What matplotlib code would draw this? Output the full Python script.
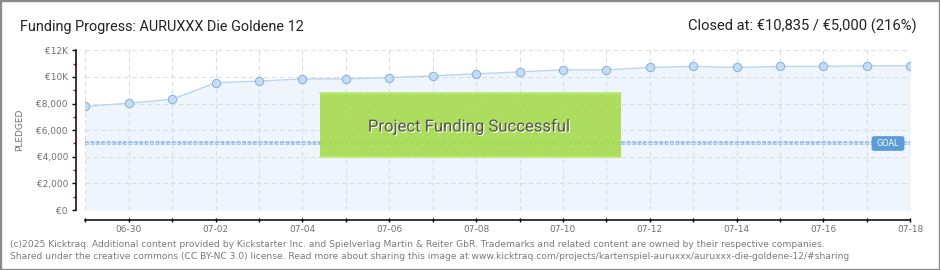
import matplotlib
matplotlib.use("Agg")
import matplotlib.pyplot as plt
import matplotlib.dates as mdates
import matplotlib.patheffects as pe
from matplotlib.patches import Rectangle, FancyBboxPatch
from matplotlib.ticker import FixedLocator, FuncFormatter
from datetime import datetime

# ---------------- data ----------------
dates = ["2025-06-29", "2025-06-30", "2025-07-01", "2025-07-02", "2025-07-03",
         "2025-07-04", "2025-07-05", "2025-07-06", "2025-07-07", "2025-07-08",
         "2025-07-09", "2025-07-10", "2025-07-11", "2025-07-12", "2025-07-13",
         "2025-07-14", "2025-07-15", "2025-07-16", "2025-07-17", "2025-07-18"]
pledged = [7790, 8020, 8320, 9560, 9690, 9850, 9850, 9950, 10080, 10230,
           10380, 10530, 10530, 10710, 10790, 10710, 10790, 10790, 10830, 10835]
goal = 5000
title = "Funding Progress: AURUXXX Die Goldene 12"
closed_text = "Closed at: €10,835 / €5,000 (216%)"
banner = "Project Funding Successful"
y_ticks = [0, 2000, 4000, 6000, 8000, 10000, 12000]
y_tick_labels = ["€0", "€2,000", "€4,000", "€6,000", "€8,000", "€10K", "€12K"]
y_minor = [1000, 3000, 5000, 7000, 9000, 11000]
footer1 = ("(c)2025 Kicktraq. Additional content provided by Kickstarter Inc. and "
           "Spielverlag Martin & Reiter GbR. Trademarks and related content are owned "
           "by their respective companies.")
footer2 = ("Shared under the creative commons (CC BY-NC 3.0) license. Read more about "
           "sharing this image at www.kicktraq.com/projects/kartenspiel-auruxxx/"
           "auruxxx-die-goldene-12/#sharing")

x = [datetime.strptime(d, "%Y-%m-%d") for d in dates]

# ---------------- layout ----------------
W, H = 940, 270
PX = 72 / 100  # points per pixel
plt.rcParams['hatch.linewidth'] = 0.6
fig = plt.figure(figsize=(W / 100, H / 100), dpi=100)
fig.patch.set_facecolor("white")

def fx(px):
    return px / W

def fy(py):
    return 1 - py / H

ax = fig.add_axes([fx(85.3), fy(210), fx(910.3) - fx(85.3), fy(50.3) - fy(210)])
ax.set_facecolor("white")

# fill + line
ax.fill_between(x, pledged, 0, color="#eef5fd", zorder=0.2, linewidth=0)
ax.plot(x, pledged, color="#b8d5f3", lw=1.0, zorder=4,
        marker="o", markersize=6.0, markerfacecolor="#c4dcf6",
        markeredgecolor="#8fb3dc", markeredgewidth=0.8)

# goal line
ax.axhline(goal, color="#94bbe9", lw=2.6, ls=(0, (1.1, 0.4)), zorder=3)
ax.axhline(goal, color="#d3e4f8", lw=0.8, ls=(0, (2.6, 1.3)), zorder=3)

ax.set_xlim(x[0], x[-1])
ax.set_ylim(0, 12000)

# grid (above the fill, below the line)
ax.set_axisbelow(True)
ax.grid(True, color="#dcdcdc", linestyle=(0, (4, 3)), lw=0.8)

# x ticks: every day, labels every other day
ax.xaxis.set_major_locator(FixedLocator(mdates.date2num(x)))
def xfmt(v, pos):
    d = mdates.num2date(v)
    idx = (d.replace(tzinfo=None) - x[0]).days
    return d.strftime("%m-%d") if idx % 2 == 1 else ""
ax.xaxis.set_major_formatter(FuncFormatter(xfmt))
ax.tick_params(axis="x", which="major", direction="inout", length=5 * PX, width=1,
               color="black", labelsize=6.5, labelcolor="#707070", pad=1.5)

# y ticks
ax.yaxis.set_major_locator(FixedLocator(y_ticks))
ax.set_yticklabels(y_tick_labels)
ax.yaxis.set_minor_locator(FixedLocator(y_minor))
ax.tick_params(axis="y", which="major", direction="out", length=4 * PX, width=1,
               color="black", labelsize=6.5, labelcolor="#707070", pad=4 * PX)
ax.tick_params(axis="y", which="minor", direction="out", length=3 * PX, width=1,
               color="#e00000")

for s in ["top", "right"]:
    ax.spines[s].set_visible(False)
ax.spines["left"].set_position(("outward", 9.3 * PX))
ax.spines["bottom"].set_position(("outward", 10.3 * PX))
ax.spines["left"].set_linewidth(1.1)
ax.spines["bottom"].set_linewidth(1.1)

# y label
fig.text(fx(20), fy(130), "PLEDGED", rotation=90, ha="center", va="center",
         fontsize=6.5, color="#707070", family="DejaVu Sans")

# goal badge
badge = FancyBboxPatch((fx(872), fy(150.5)), fx(32), (150.5 - 136.5) / H,
                       boxstyle="round,pad=0,rounding_size=0.004",
                       transform=fig.transFigure, facecolor="#5b9bd8",
                       edgecolor="#5b9bd8", lw=0.5, zorder=6)
fig.add_artist(badge)
fig.text(fx(888), fy(143.5), "GOAL", ha="center", va="center", fontsize=5.8,
         color="white", family="DejaVu Sans", zorder=7)

# success banner
rect = Rectangle((fx(320), fy(157.7)), fx(300.7), (157.7 - 92.3) / H,
                 transform=fig.transFigure, facecolor="#a6db4f",
                 edgecolor="#b6e26c", hatch="////", lw=0, alpha=0.93, zorder=5)
fig.add_artist(rect)
fig.add_artist(plt.Line2D([fx(320), fx(620.7)], [fy(92.6), fy(92.6)],
                          transform=fig.transFigure, color="#c2ea83", lw=1.2, zorder=5))
fig.add_artist(plt.Line2D([fx(320), fx(620.7)], [fy(157.4), fy(157.4)],
                          transform=fig.transFigure, color="#c2ea83", lw=1.2, zorder=5))
fig.text(fx(468.5), fy(126.5), banner, ha="center", va="center", fontsize=12,
         color="#555555", family="Roboto", zorder=8,
         path_effects=[pe.withSimplePatchShadow(offset=(0.8, -0.8),
                                                shadow_rgbFace="white", alpha=1.0)])

# titles
fig.text(fx(20), fy(30.5), title, ha="left", va="baseline", fontsize=10.4,
         color="#222222", family="Roboto")
fig.text(fx(917), fy(30.5), closed_text, ha="right", va="baseline", fontsize=10.6,
         color="#222222", family="Roboto")

# footer
fig.text(fx(10), fy(246.7), footer1, ha="left", va="baseline", fontsize=6.55,
         color="#7a7a7a", family="DejaVu Sans")
fig.text(fx(10), fy(259), footer2, ha="left", va="baseline", fontsize=6.55,
         color="#7a7a7a", family="DejaVu Sans")

# outer frame
fig.add_artist(Rectangle((0, 0), 1, 1, transform=fig.transFigure, fill=False,
                         edgecolor="#8a8a8a", lw=2.4, zorder=10))

fig.savefig("out.png", dpi=100, facecolor="white")
